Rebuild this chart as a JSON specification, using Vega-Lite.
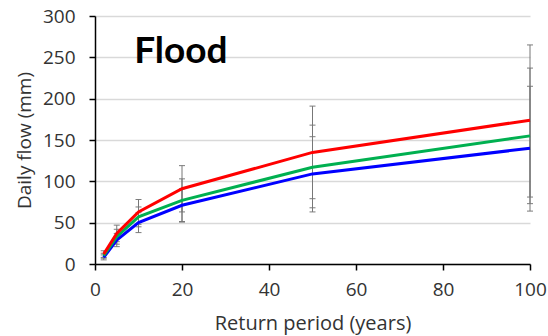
{
  "$schema": "https://vega.github.io/schema/vega-lite/v6.json",
  "width": 435,
  "height": 248,
  "autosize": "none",
  "padding": {"left": 95, "top": 16, "right": 18, "bottom": 72},
  "background": "white",
  "datasets": {
    "lines": [
      {"rp": 2, "series": "Blue", "flow": 8},
      {"rp": 5, "series": "Blue", "flow": 29},
      {"rp": 10, "series": "Blue", "flow": 50},
      {"rp": 20, "series": "Blue", "flow": 71},
      {"rp": 50, "series": "Blue", "flow": 109},
      {"rp": 100, "series": "Blue", "flow": 140},
      {"rp": 2, "series": "Green", "flow": 10},
      {"rp": 5, "series": "Green", "flow": 33},
      {"rp": 10, "series": "Green", "flow": 57},
      {"rp": 20, "series": "Green", "flow": 77},
      {"rp": 50, "series": "Green", "flow": 117},
      {"rp": 100, "series": "Green", "flow": 155},
      {"rp": 2, "series": "Red", "flow": 12},
      {"rp": 5, "series": "Red", "flow": 37},
      {"rp": 10, "series": "Red", "flow": 63},
      {"rp": 20, "series": "Red", "flow": 91},
      {"rp": 50, "series": "Red", "flow": 135},
      {"rp": 100, "series": "Red", "flow": 174}
    ],
    "errors": [
      {"rp": 2, "series": "Blue", "lo": 5, "hi": 11},
      {"rp": 5, "series": "Blue", "lo": 21, "hi": 37},
      {"rp": 10, "series": "Blue", "lo": 38, "hi": 62},
      {"rp": 20, "series": "Blue", "lo": 51, "hi": 91},
      {"rp": 50, "series": "Blue", "lo": 63, "hi": 154},
      {"rp": 100, "series": "Blue", "lo": 64, "hi": 215},
      {"rp": 2, "series": "Green", "lo": 7, "hi": 13},
      {"rp": 5, "series": "Green", "lo": 24, "hi": 42},
      {"rp": 10, "series": "Green", "lo": 45, "hi": 69},
      {"rp": 20, "series": "Green", "lo": 51, "hi": 103},
      {"rp": 50, "series": "Green", "lo": 68, "hi": 168},
      {"rp": 100, "series": "Green", "lo": 73, "hi": 237},
      {"rp": 2, "series": "Red", "lo": 8, "hi": 16},
      {"rp": 5, "series": "Red", "lo": 27, "hi": 47},
      {"rp": 10, "series": "Red", "lo": 48, "hi": 78},
      {"rp": 20, "series": "Red", "lo": 63, "hi": 119},
      {"rp": 50, "series": "Red", "lo": 79, "hi": 191},
      {"rp": 100, "series": "Red", "lo": 81, "hi": 265}
    ]
  },
  "config": {
    "view": {"stroke": null},
    "axis": {
      "labelFont": "Open Sans",
      "titleFont": "Open Sans",
      "labelColor": "#333333",
      "titleColor": "#333333",
      "labelFontSize": 19,
      "titleFontWeight": "normal",
      "domainColor": "#000000",
      "domainWidth": 1.5,
      "tickColor": "#000000",
      "tickWidth": 1.5,
      "tickSize": 6,
      "gridColor": "#d9d9d9",
      "gridWidth": 1.5
    }
  },
  "layer": [
    {
      "data": {"name": "errors"},
      "mark": {"type": "errorbar", "ticks": {"size": 6, "color": "#444444", "strokeWidth": 1}, "rule": {"color": "#777777", "strokeWidth": 1}},
      "encoding": {
        "x": {"field": "rp", "type": "quantitative", "scale": {"domain": [0, 100]}, "axis": {"values": [0, 20, 40, 60, 80, 100], "grid": false, "labelFlush": false, "labelOverlap": false, "title": "Return period (years)", "titleFontSize": 20, "titlePadding": 14, "labelPadding": 10}},
        "y": {"field": "lo", "type": "quantitative", "scale": {"domain": [0, 300]}, "axis": {"values": [0, 50, 100, 150, 200, 250, 300], "grid": true, "title": "Daily flow (mm)", "titleFontSize": 19, "titlePadding": 8, "labelPadding": 14}},
        "y2": {"field": "hi"}
      }
    },
    {
      "data": {"name": "lines"},
      "mark": {"type": "line", "strokeWidth": 3},
      "encoding": {
        "x": {"field": "rp", "type": "quantitative"},
        "y": {"field": "flow", "type": "quantitative"},
        "color": {"field": "series", "type": "nominal", "scale": {"domain": ["Blue", "Green", "Red"], "range": ["#0000ff", "#00b050", "#ff0000"]}, "legend": null}
      }
    },
    {
      "data": {"values": [{"label": "Flood", "x": 9, "y": 243}]},
      "mark": {"type": "text", "font": "Lato", "fontSize": 37, "fontWeight": "bold", "align": "left", "baseline": "alphabetic", "color": "#000000"},
      "encoding": {
        "x": {"field": "x", "type": "quantitative"},
        "y": {"field": "y", "type": "quantitative"},
        "text": {"field": "label"}
      }
    }
  ]
}
